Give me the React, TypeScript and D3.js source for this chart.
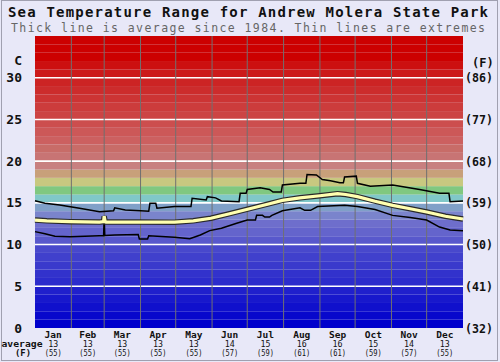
import React from "react";
import * as d3 from "d3";

const monthNames = ["Jan","Feb","Mar","Apr","May","Jun","Jul","Aug","Sep","Oct","Nov","Dec"];
const monthStarts = [0,31,59,90,120,151,181,212,243,273,304,334,365];
const avgC = [13,13,13,13,13,14,15,16,16,15,14,13];
const avgF = [55,55,55,55,55,57,59,61,61,59,57,55];
const leftTicks = [0,5,10,15,20,25,30];
const rightTicks = ["(32)","(41)","(50)","(59)","(68)","(77)","(86)"];

// [day of year, °C]
const avgLine: [number, number][] = [
  [0,12.94],[10,12.85],[30,12.75],[55,12.7],[58.5,12.75],[59,13.4],[59.8,12.75],[60.5,12.7],
  [90,12.7],[119,12.68],[135,12.85],[150,13.15],[166,13.7],[183,14.3],[200,14.9],[211,15.3],
  [226,15.6],[243,15.85],[258,16.1],[265,16.0],[275,15.75],[290,15.2],[305,14.7],
  [320,14.3],[334,13.9],[350,13.4],[365,13.06]
];
const maxLine: [number, number][] = [
  [0,15.26],[8.5,14.95],[21,14.74],[38,14.35],[55,13.94],[67,14.06],[68,14.4],[77,14.14],
  [90,14.06],[97,14.0],[98,14.95],[103,14.95],[104,14.35],[119,14.55],[133,14.55],[134,15.55],
  [146,15.34],[147,15.74],[154,15.6],[159,15.22],[174,15.14],[175,16.14],[180,16.14],[181,16.6],
  [192,16.8],[200,16.6],[203,16.3],[210,16.3],[211,17.14],[226,17.34],[231,17.34],[232,18.4],
  [240,18.34],[245,17.8],[252,17.66],[260,17.4],[263,17.4],[264,18.1],[274,18.2],[275,17.34],
  [286,17.0],[305,17.14],[328,16.6],[345,16.14],[353,16.14],[354,15.14],[365,15.22]
];
const minLine: [number, number][] = [
  [0,11.55],[8.5,11.3],[17,11.0],[30,10.95],[55,11.06],[58.5,11.06],[59,13.2],[59.5,11.1],
  [68,11.15],[88,11.2],[89,10.67],[96,10.67],[97,11.06],[119,10.87],[132,10.7],[141,11.15],
  [149,11.67],[159,11.95],[172,12.55],[181,12.94],[188,12.94],[189,13.5],[194,13.5],[196,13.3],
  [200,13.3],[202,13.5],[211,14.06],[226,14.4],[230,14.1],[235,14.1],[241,14.55],[264,14.7],
  [275,14.55],[290,14.2],[305,13.5],[320,13.25],[334,12.94],[345,12.1],[354,11.75],[365,11.67]
];
// colour of band [i, i+1] °C, i = 0..34
const bandColors = [
  "#0000cc","#0808cc","#1010cc","#1818cc","#2020cc",
  "#2c2ccc","#3232cc","#3a3acc","#4040cc","#4848cc",
  "#5858cc","#6464cc","#6e6ecc","#7a84cc","#80a0c8",
  "#80c8c8","#80c880","#c8c880","#c8a07a","#c88080",
  "#c87474","#c86c68","#cc6060","#cc5858","#cc4e4e",
  "#cc4444","#cc3c3c","#cc3434","#cc2c2c","#cc2424",
  "#cc1a1a","#cc1010","#cc0000","#cc0000","#cc0000"
];

export default function App() {
  const W = 500, H = 362;
  const x = d3.scaleLinear().domain([0, 365]).range([35, 463]);
  const y = d3.scaleLinear().domain([0, 35]).range([328, 36]);
  const line = d3.line<[number, number]>().x(d => x(d[0])).y(d => y(d[1]));
  const mono = "'DejaVu Sans Mono', monospace";

  return (
    <svg width={W} height={H} style={{ position: "absolute", left: 0, top: 0 }}>
      <rect x={0} y={0} width={W} height={H} fill="#e8e8f8" />
      <rect x={1.5} y={0.5} width={496} height={360} fill="none" stroke="#a0a0b0" />
      {bandColors.map((c, i) => (
        <rect key={i} x={x(0)} width={x(365) - x(0)} y={y(i + 1)} height={y(i) - y(i + 1)} fill={c} />
      ))}
      {leftTicks.filter(t => t > 0).map(t => (
        <line key={t} x1={x(0)} x2={x(365)} y1={y(t)} y2={y(t)} stroke="#ffffff" strokeWidth={1.6} />
      ))}
      {monthStarts.slice(1, 12).map(d => (
        <line key={d} x1={x(d)} x2={x(d)} y1={y(35)} y2={y(0)} stroke="#707070" strokeWidth={1} />
      ))}
      <path d={line(maxLine) || ""} fill="none" stroke="#000" strokeWidth={1.5} />
      <path d={line(minLine) || ""} fill="none" stroke="#000" strokeWidth={1.5} />
      <path d={line(avgLine) || ""} fill="none" stroke="#2a2a2a" strokeWidth={5.5} />
      <path d={line(avgLine) || ""} fill="none" stroke="#ffffb0" strokeWidth={3.2} />

      <text x={248} y={17} textAnchor="middle" fontFamily={mono} fontWeight="bold" fontSize={14}
        textLength={480} lengthAdjust="spacing" fill="#111">Sea Temperature Range for Andrew Molera State Park</text>
      <text x={248} y={31.5} textAnchor="middle" fontFamily={mono} fontSize={11.5}
        textLength={474} lengthAdjust="spacing" fill="#666">Thick line is average since 1984. Thin lines are extremes</text>

      <text x={22} y={65} textAnchor="end" fontFamily={mono} fontWeight="bold" fontSize={13} fill="#111">C</text>
      {leftTicks.map(t => (
        <text key={t} x={22} y={y(t) + 4.5} textAnchor="end" fontFamily={mono} fontWeight="bold" fontSize={13} fill="#111">{t}</text>
      ))}
      <text x={472} y={67} fontFamily={mono} fontWeight="bold" fontSize={12} fill="#111">(F)</text>
      {rightTicks.map((t, i) => (
        <text key={t} x={465} y={y(leftTicks[i]) + 4.5} fontFamily={mono} fontWeight="bold" fontSize={12}
          textLength={28} lengthAdjust="spacingAndGlyphs" fill="#111">{t}</text>
      ))}

      {monthNames.map((m, i) => {
        const cx = x((monthStarts[i] + monthStarts[i + 1]) / 2);
        return (
          <g key={m}>
            <text x={cx} y={337.5} textAnchor="middle" fontFamily={mono} fontWeight="bold" fontSize={9.5} fill="#111">{m}</text>
            <text x={cx} y={346.5} textAnchor="middle" fontFamily={mono} fontSize={8}
              textLength={10} lengthAdjust="spacingAndGlyphs" fill="#111">{avgC[i]}</text>
            <text x={cx} y={355.5} textAnchor="middle" fontFamily={mono} fontSize={8}
              textLength={17} lengthAdjust="spacingAndGlyphs" fill="#111">({avgF[i]})</text>
          </g>
        );
      })}
      <text x={22} y={346.5} textAnchor="middle" fontFamily={mono} fontWeight="bold" fontSize={8}
        textLength={41} lengthAdjust="spacingAndGlyphs" fill="#111">average</text>
      <text x={23} y={355.5} textAnchor="middle" fontFamily={mono} fontWeight="bold" fontSize={8}
        textLength={16} lengthAdjust="spacingAndGlyphs" fill="#111">(F)</text>
    </svg>
  );
}
